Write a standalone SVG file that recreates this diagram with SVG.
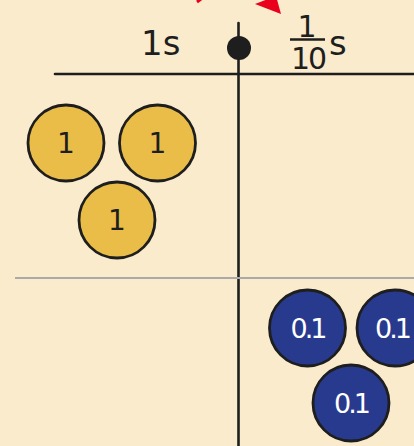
<svg xmlns="http://www.w3.org/2000/svg" width="414" height="446" viewBox="0 0 414 446">
<style>
.ax{stroke:#1e1e1e;stroke-width:2.6;fill:none;stroke-linecap:round}
.y{fill:#E9BD48;stroke:#1e1e1e;stroke-width:2.8}
.b{fill:#283A8E;stroke:#1e1e1e;stroke-width:2.8}
.ty{font-family:"DejaVu Sans",sans-serif;font-size:28px;fill:#1e1e1e;text-anchor:middle}
.tb{font-family:"DejaVu Sans",sans-serif;font-size:27px;fill:#ffffff;text-anchor:middle;letter-spacing:-3px}
.lbl{font-family:"DejaVu Sans",sans-serif;fill:#1e1e1e}
</style>
<rect width="414" height="446" fill="#F9EBCC"/>
<g id="connectors">
<line class="ax" x1="238.5" y1="23" x2="238.5" y2="446"/>
<line class="ax" x1="55" y1="74" x2="414" y2="74"/>
<line x1="15" y1="278" x2="414" y2="278" stroke="#aaaaaa" stroke-width="2"/>
<path d="M197,2 L205,-4" stroke="#e8001c" stroke-width="3" fill="none"/>
<polygon points="255,4 281,14 276,-4" fill="#e8001c"/>
</g>
<g id="dot"><circle cx="239" cy="48" r="12" fill="#1e1e1e"/></g>
<g id="label-1s"><text class="lbl" x="141" y="55" font-size="34">1s</text></g>
<g id="label-tenth">
<text class="lbl" x="307" y="37" font-size="30" text-anchor="middle">1</text>
<line x1="290" y1="39.5" x2="325" y2="39.5" stroke="#1e1e1e" stroke-width="2.4"/>
<text class="lbl" x="308" y="69" font-size="30" text-anchor="middle" letter-spacing="-2">10</text>
<text class="lbl" x="329" y="55" font-size="34">s</text>
</g>
<g id="y1"><circle class="y" cx="66" cy="143" r="38"/><text class="ty" x="66" y="153">1</text></g>
<g id="y2"><circle class="y" cx="157.5" cy="143" r="38"/><text class="ty" x="157.5" y="153">1</text></g>
<g id="y3"><circle class="y" cx="117" cy="220" r="38"/><text class="ty" x="117" y="230">1</text></g>
<g id="b1"><circle class="b" cx="307.5" cy="328" r="38"/><text class="tb" x="307.5" y="338">0.1</text></g>
<g id="b2"><circle class="b" cx="395" cy="328" r="38"/><text class="tb" x="392" y="338">0.1</text></g>
<g id="b3"><circle class="b" cx="351" cy="403" r="38"/><text class="tb" x="351" y="413">0.1</text></g>
</svg>
